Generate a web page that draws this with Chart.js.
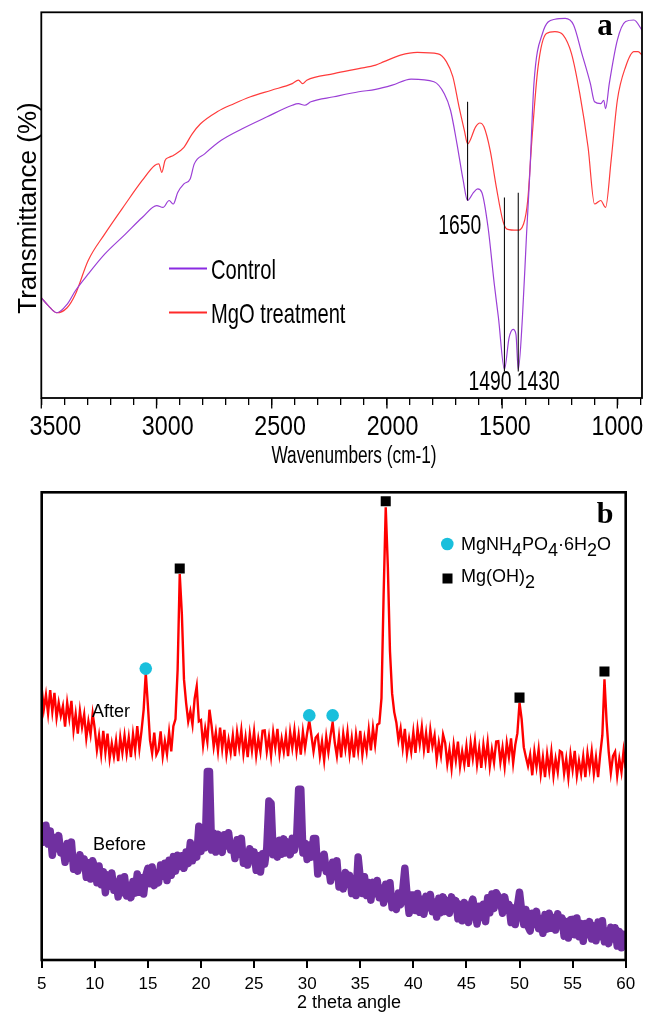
<!DOCTYPE html>
<html>
<head>
<meta charset="utf-8">
<title>FTIR and XRD spectra</title>
<script src="https://cdn.jsdelivr.net/npm/chart.js@4.4.1/dist/chart.umd.min.js"></script>
<style>
  html, body { margin: 0; padding: 0; background: #fff; overflow: hidden; }
  #wrap { position: relative; width: 654px; height: 1015px; }
  #ir { position: absolute; left: 0; top: 0; width: 654px; height: 480px; }
  #xrd { position: absolute; left: 0; top: 480px; width: 654px; height: 535px; }
</style>
</head>
<body>
<div id="wrap">
  <canvas id="ir" width="654" height="480"></canvas>
  <canvas id="xrd" width="654" height="535"></canvas>
</div>
<script>
// ---------- (a) FTIR spectra ----------
const irTickLabels = [3500, 3000, 2500, 2000, 1500, 1000];
const irMinorTicks = [3400, 3300, 3200, 3100, 2900, 2800, 2700, 2600, 2400, 2300, 2200, 2100,
                      1900, 1800, 1700, 1600, 1400, 1300, 1200, 1100, 900];

const controlWn = [3500, 3469, 3433, 3388, 3352, 3297, 3225, 3135, 3062, 2999,
                   2972, 2945, 2927, 2908, 2881, 2854, 2836, 2791, 2719, 2628,
                   2520, 2411, 2384, 2357, 2330, 2230, 2122, 2049, 1977, 1895,
                   1796, 1751, 1724, 1696, 1669, 1650, 1624, 1606, 1588, 1561,
                   1534, 1516, 1490, 1470, 1452, 1440, 1430, 1412, 1394, 1380,
                   1362, 1325, 1271, 1226, 1190, 1154, 1117, 1099, 1072, 1059,
                   1051, 1035, 1000, 964, 928, 893];
const controlT = [26.0, 23.9, 22.1, 24.3, 27.8, 32.1, 37.3, 42.5, 46.8, 49.9,
                  49.4, 51.2, 50.3, 53.3, 55.5, 56.8, 60.7, 63.3, 66.8, 69.8,
                  72.9, 75.9, 76.3, 75.9, 76.8, 78.1, 79.4, 80.0, 81.1, 82.7,
                  82.0, 78.9, 74.6, 65.9, 56.4, 51.2, 53.3, 54.2, 53.3, 44.2,
                  29.5, 20.8, 7.4, 15.6, 17.8, 16.5, 7.4, 20.8, 42.5, 58.1,
                  81.5, 94.5, 98.2, 98.4, 96.7, 89.3, 81.5, 76.8, 76.3, 77.2,
                  75.0, 81.5, 92.8, 97.6, 98.0, 95.4];

const mgoWn = [3500, 3469, 3433, 3388, 3352, 3297, 3225, 3135, 3062, 3008,
               2990, 2977, 2963, 2945, 2927, 2881, 2845, 2809, 2737, 2664,
               2592, 2501, 2411, 2384, 2366, 2348, 2230, 2122, 2049, 2013,
               1941, 1868, 1778, 1742, 1714, 1687, 1664, 1650, 1615, 1597,
               1579, 1552, 1525, 1497, 1479, 1434, 1407, 1389, 1371, 1344,
               1308, 1271, 1235, 1199, 1163, 1127, 1099, 1072, 1051, 1027,
               1000, 964, 928, 910, 893];
const mgoT = [26.0, 23.9, 22.1, 23.4, 26.9, 35.6, 42.5, 50.3, 56.4, 60.3,
              60.7, 58.5, 61.6, 62.4, 62.9, 65.0, 68.5, 71.1, 74.2, 76.3,
              78.1, 79.8, 81.5, 82.4, 81.5, 82.4, 84.1, 85.4, 86.3, 87.2,
              88.9, 89.6, 89.2, 87.2, 83.3, 75.5, 69.4, 65.9, 70.3, 71.3,
              70.3, 64.2, 54.6, 46.0, 43.8, 43.5, 45.1, 51.2, 66.8, 85.9,
              94.5, 95.0, 94.1, 89.3, 78.9, 65.0, 50.3, 51.2, 49.4, 61.6,
              77.2, 85.9, 89.8, 89.8, 88.9];

// band markers (wavenumber, upper and lower end of the drop line)
const peakWn = [1650, 1490, 1430];
const peakTop = [76.8, 52.0, 53.2];
const peakBottom = [51.2, 6.9, 6.9];

// ---------- (b) XRD patterns ----------
const xrdStart = 5, xrdStep = 0.2;   // 2θ sampling grid
const xrdTicks = [5, 10, 15, 20, 25, 30, 35, 40, 45, 50, 55, 60];

const xrdAfter = [
  58.1, 53.6, 56.7, 52.7, 57.7,  53.1, 57.1, 51.8, 55.0, 52.2,
  54.3, 49.9, 55.0, 51.7, 55.4,  49.1, 52.6, 48.4, 53.3, 49.8,
  52.5, 47.4, 51.0, 48.2, 52.7,  49.4, 44.9, 48.0, 44.0, 49.0,
  44.4, 48.4, 43.1, 46.3, 43.5,  46.9, 42.5, 47.6, 44.3, 48.0,
  44.1, 47.6, 43.4, 48.3, 44.8,  50.0, 45.2, 49.0, 53.5, 61.4,
  54.5, 47.0, 44.2, 48.6, 43.9,  44.9, 48.9, 43.6, 46.8, 44.0,
  48.7, 44.6, 50.0, 51.5, 62.0,  82.5, 74.0, 60.0, 55.0, 51.0,
  53.2, 50.3, 55.8, 58.5, 51.0,  51.3, 45.9, 49.5, 46.7, 53.5,
  50.1, 45.6, 48.7, 44.7, 49.7,  45.2, 49.2, 43.9, 47.1, 44.3,
  48.0, 43.6, 48.7, 45.4, 49.1,  44.1, 47.6, 43.4, 48.3, 44.8,
  48.8, 43.7, 47.3, 44.5, 49.0,  49.1, 44.6, 47.7, 43.7, 48.7,
  45.4, 49.4, 44.1, 47.3, 44.5,  48.0, 43.6, 48.7, 45.4, 49.1,
  44.6, 48.1, 43.9, 48.8, 45.3,  48.5, 51.2, 48.0, 44.6, 47.5,
  48.1, 43.6, 46.7, 42.7, 47.7,  44.4, 48.0, 50.8, 46.5, 43.6,
  47.7, 43.3, 48.4, 45.1, 48.8,  44.0, 47.5, 43.3, 48.2, 44.7,
  49.0, 43.9, 47.5, 44.7, 49.2,  44.8, 49.6, 46.0, 50.3, 50.6,
  56.0, 78.0, 96.8, 84.0, 66.0,  57.0, 53.0, 50.8, 47.0, 49.5,
  45.4, 49.4, 44.1, 47.3, 44.5,  48.7, 44.3, 49.4, 46.1, 49.8,
  45.0, 48.5, 44.3, 49.2, 45.7,  48.0, 42.9, 46.5, 43.7, 48.2,
  46.4, 41.9, 45.0, 41.0, 46.0,  42.7, 46.7, 41.4, 44.6, 41.8,
  45.7, 41.3, 46.4, 43.1, 46.8,  41.8, 45.3, 41.1, 46.0, 42.5,
  46.5, 41.4, 45.0, 42.2, 46.7,  46.8, 42.3, 45.4, 41.4, 46.4,
  43.4, 47.4, 42.1, 46.0, 48.5,  55.0, 51.5, 45.5, 43.4, 41.5,
  43.9, 39.5, 44.6, 41.3, 45.0,  39.8, 43.3, 39.1, 44.0, 40.5,
  44.5, 39.4, 43.0, 40.2, 44.7,  44.4, 39.9, 43.0, 39.0, 44.0,
  40.7, 44.7, 39.4, 42.6, 39.8,  43.5, 39.1, 44.2, 40.9, 44.6,
  39.8, 43.3, 39.1, 44.0, 48.0,  60.0, 51.0, 44.5, 40.0, 43.6,
  44.5, 39.4, 43.0, 40.2, 44.7,
  41.0
];

const xrdBefore = [
  28.5, 25.2, 28.8, 24.8, 27.6,  22.4, 26.2, 23.8, 26.6, 22.9,
  24.1, 20.9, 24.9, 21.8, 25.2,  19.4, 21.7, 19.0, 22.5, 20.0,
  21.6, 17.7, 20.8, 17.3, 21.2,  19.8, 16.5, 20.1, 16.1, 18.9,
  14.4, 18.2, 15.8, 18.6, 14.9,  16.7, 13.5, 17.5, 14.4, 17.8,
  13.7, 16.0, 13.3, 16.8, 14.3,  18.4, 14.5, 17.6, 14.1, 18.0,
  19.6, 16.3, 19.9, 15.9, 18.7,  16.5, 20.3, 17.9, 20.7, 17.0,
  21.3, 18.1, 22.1, 19.0, 22.4,  20.0, 22.3, 19.6, 23.1, 20.6,
  25.1, 21.2, 24.3, 22.0, 28.6,  23.2, 26.0, 24.0, 40.3, 40.3,
  23.5, 27.1, 23.1, 26.9, 24.0,  23.0, 26.8, 24.4, 27.2, 23.5,
  24.9, 21.7, 25.7, 22.6, 26.0,  20.7, 23.0, 20.3, 23.8, 21.3,
  23.1, 19.2, 22.3, 18.8, 22.7,  20.5, 24.0, 34.0, 33.5, 22.5,
  25.4, 22.0, 25.6, 22.6, 25.9,  22.9, 25.2, 22.5, 26.0, 23.5,
  25.5, 36.5, 36.5, 22.9, 25.0,  21.5, 24.6, 22.0, 26.0, 26.0,
  18.4, 22.2, 19.8, 22.6, 18.9,  20.1, 16.9, 20.9, 17.8, 21.2,
  15.6, 17.9, 15.2, 18.7, 16.2,  18.1, 14.2, 17.3, 13.8, 22.0,
  17.5, 14.2, 17.8, 13.8, 16.6,  12.8, 16.6, 14.2, 17.0, 13.3,
  15.4, 12.2, 16.2, 13.1, 16.5,  11.2, 13.5, 10.8, 14.3, 11.8,
  14.9, 19.6, 14.1, 10.0, 13.9,  13.9, 10.6, 14.2, 10.2, 13.0,
  9.8, 13.6, 11.2, 14.0, 10.3,   12.4, 9.2, 13.2, 10.1, 13.5,
  10.4, 12.7, 10.0, 13.5, 11.0,  12.7, 8.8, 11.9, 8.4, 12.3,
  11.3, 8.0, 11.6, 13.0, 10.4,   7.7, 11.5, 9.1, 11.9, 8.2,
  13.3, 10.1, 14.1, 11.0, 14.4,  13.6, 12.7, 10.0, 13.5, 11.0,
  11.9, 8.0, 11.1, 7.6, 11.5,    14.5, 10.5, 7.6, 10.8, 7.2,
  6.2, 10.0, 7.6, 10.4, 6.7,     8.9, 5.7, 9.7, 6.6, 10.0,
  6.8, 9.1, 6.4, 9.9, 7.4,       9.0, 5.1, 8.2, 4.7, 8.6,
  8.7, 5.4, 9.0, 5.0, 7.8,       4.0, 7.8, 5.4, 8.2, 4.5,
  7.3, 4.1, 8.1, 5.0, 8.4,       3.9, 6.2, 3.5, 7.0, 4.5,
  6.9, 3.0, 6.1, 2.6, 5.5,
  3.0
];

// phase identification markers
const struviteTheta = [14.8, 30.2, 32.4];
const struviteY = [62.3, 52.3, 52.3];
const bruciteTheta = [18.0, 37.4, 50.0, 58.0];
const bruciteY = [83.7, 98.1, 56.1, 61.7];

// ---------- shared helpers ----------
const SANS = '"Liberation Sans", Arial, Helvetica, sans-serif';
const SERIF = '"Liberation Serif", "Times New Roman", serif';
const zip = (xs, ys) => xs.map((x, i) => ({ x: x, y: ys[i] }));

// condensed text: horizontal squeeze of a regular face
function squeeze(ctx, text, x, y, size, sx, align, opts) {
  opts = opts || {};
  ctx.save();
  ctx.font = (opts.weight || 'normal') + ' ' + size + 'px ' + (opts.family || SANS);
  ctx.fillStyle = opts.color || '#000';
  ctx.textBaseline = 'alphabetic';
  ctx.textAlign = align || 'left';
  ctx.translate(x, y);
  if (opts.rotate) ctx.rotate(opts.rotate);
  ctx.scale(sx, 1);
  ctx.fillText(text, 0, 0);
  ctx.restore();
}

// text with subscript runs: parts = [[text, isSub], ...]
function chemText(ctx, parts, x, y, size) {
  ctx.save();
  ctx.font = size + 'px ' + SANS;
  ctx.fillStyle = '#000';
  ctx.textBaseline = 'alphabetic';
  ctx.textAlign = 'left';
  let cx = x;
  parts.forEach(p => {
    ctx.fillText(p[0], cx, p[1] ? y + 6 : y);
    cx += ctx.measureText(p[0]).width;
  });
  ctx.restore();
}

function framePlugin(id, lw) {
  return {
    id: id,
    afterDatasetsDraw(chart) {
      const a = chart.chartArea, ctx = chart.ctx;
      ctx.save();
      ctx.strokeStyle = '#000';
      ctx.lineWidth = lw;
      ctx.strokeRect(a.left, a.top, a.right - a.left, a.bottom - a.top);
      ctx.restore();
    }
  };
}

// ---------- chart (a) ----------
const irText = {
  id: 'irText',
  afterDraw(chart) {
    const ctx = chart.ctx, xs = chart.scales.x, ys = chart.scales.y;
    const base = chart.chartArea.bottom;
    // longer marks at the labelled wavenumbers
    ctx.save();
    ctx.strokeStyle = '#000';
    ctx.lineWidth = 1.3;
    irTickLabels.forEach(v => {
      const px = xs.getPixelForValue(v);
      ctx.beginPath(); ctx.moveTo(px, base); ctx.lineTo(px, base + 10.5); ctx.stroke();
    });
    ctx.restore();
    // tick labels (label row runs slightly tighter than the tick row)
    irTickLabels.forEach(v => {
      const shift = (v - 1000) * 0.0056;
      squeeze(ctx, String(v), xs.getPixelForValue(v) + shift, 435, 28, 0.83, 'center');
    });
    // axis titles
    squeeze(ctx, 'Wavenumbers (cm-1)', 354, 463, 23, 0.75, 'center');
    squeeze(ctx, 'Transmittance (%)', 36, 208, 26, 1.0, 'center', { rotate: -Math.PI / 2 });
    // band labels
    squeeze(ctx, '1650', xs.getPixelForValue(1684), ys.getPixelForValue(42.5), 28, 0.69, 'center');
    squeeze(ctx, '1490', xs.getPixelForValue(1553), ys.getPixelForValue(2.2), 28, 0.69, 'center');
    squeeze(ctx, '1430', xs.getPixelForValue(1343), ys.getPixelForValue(2.2), 28, 0.69, 'center');
    // legend
    ctx.save();
    ctx.lineWidth = 2;
    ctx.strokeStyle = '#8a2be2';
    ctx.beginPath(); ctx.moveTo(169, 268.5); ctx.lineTo(207, 268.5); ctx.stroke();
    ctx.strokeStyle = '#ff2a2a';
    ctx.beginPath(); ctx.moveTo(169, 312.6); ctx.lineTo(207, 312.6); ctx.stroke();
    ctx.restore();
    squeeze(ctx, 'Control', 211, 279, 28, 0.72, 'left');
    squeeze(ctx, 'MgO treatment', 211, 323, 28, 0.72, 'left');
    // panel letter
    squeeze(ctx, 'a', 605, 35, 31, 1, 'center', { weight: 'bold', family: SERIF });
  }
};

new Chart(document.getElementById('ir'), {
  type: 'scatter',
  data: {
    datasets: [
      ...peakWn.map((w, i) => ({
        label: 'band ' + w,
        data: [{ x: w, y: peakTop[i] }, { x: w, y: peakBottom[i] }],
        showLine: true, borderColor: '#111', borderWidth: 1.1, pointRadius: 0
      })),
      {
        label: 'Control',
        data: zip(controlWn, controlT),
        showLine: true, borderColor: '#9b3fd6', borderWidth: 1.2, pointRadius: 0,
        cubicInterpolationMode: 'monotone'
      },
      {
        label: 'MgO treatment',
        data: zip(mgoWn, mgoT),
        showLine: true, borderColor: '#ff3b3b', borderWidth: 1.2, pointRadius: 0,
        cubicInterpolationMode: 'monotone'
      }
    ]
  },
  options: {
    responsive: false,
    animation: false,
    devicePixelRatio: 1,
    layout: { padding: { left: 0, top: 12.3, right: 12, bottom: 0 } },
    plugins: { legend: { display: false }, tooltip: { enabled: false } },
    scales: {
      x: {
        type: 'linear', min: 893, max: 3500, reverse: true,
        afterBuildTicks: s => {
          s.ticks = irTickLabels.concat(irMinorTicks).sort((a, b) => b - a).map(v => ({ value: v }));
        },
        afterFit: s => { s.height = 82; },
        ticks: { display: false },
        grid: { display: true, drawOnChartArea: false, drawTicks: true, tickLength: 7, color: '#000', lineWidth: 1.3 },
        border: { display: false }
      },
      y: {
        type: 'linear', min: 0, max: 100,
        afterFit: s => { s.width = 41.3; },
        ticks: { display: false },
        grid: { display: false },
        border: { display: false }
      }
    }
  },
  plugins: [framePlugin('irFrame', 1.8), irText]
});

// ---------- chart (b) ----------
const xrdTheta = xrdAfter.map((_, i) => xrdStart + i * xrdStep);

const xrdText = {
  id: 'xrdText',
  afterDraw(chart) {
    const ctx = chart.ctx;
    squeeze(ctx, 'After', 92, 237, 18, 1, 'left');
    squeeze(ctx, 'Before', 93, 370, 18, 1, 'left');
    squeeze(ctx, '2 theta angle', 349, 528, 18, 1, 'center');
    squeeze(ctx, 'b', 605, 43, 30, 1, 'center', { weight: 'bold', family: SERIF });
    // legend
    ctx.save();
    ctx.fillStyle = '#19bfdc';
    ctx.beginPath(); ctx.arc(447.3, 64, 6.3, 0, Math.PI * 2); ctx.fill();
    ctx.fillStyle = '#000';
    ctx.fillRect(442.5, 93.5, 10, 10);
    ctx.restore();
    chemText(ctx, [['MgNH', 0], ['4', 1], ['PO', 0], ['4', 1], ['\u00b76H', 0], ['2', 1], ['O', 0]], 461, 70, 18);
    chemText(ctx, [['Mg(OH)', 0], ['2', 1]], 461, 102, 18);
  }
};

new Chart(document.getElementById('xrd'), {
  type: 'scatter',
  data: {
    datasets: [
      {
        label: 'MgNH4PO4·6H2O',
        data: zip(struviteTheta, struviteY),
        pointStyle: 'circle', pointRadius: 6.3, backgroundColor: '#19bfdc', borderWidth: 0
      },
      {
        label: 'Mg(OH)2',
        data: zip(bruciteTheta, bruciteY),
        pointStyle: 'rect', pointRadius: 7.1, backgroundColor: '#000', borderWidth: 0
      },
      {
        label: 'After',
        data: zip(xrdTheta, xrdAfter),
        showLine: true, borderColor: '#ff0000', borderWidth: 2.4, pointRadius: 0, tension: 0
      },
      {
        label: 'Before',
        data: zip(xrdTheta, xrdBefore),
        showLine: true, borderColor: '#7030a0', borderWidth: 7.5, pointRadius: 0, tension: 0,
        borderJoinStyle: 'round', borderCapStyle: 'round'
      }
    ]
  },
  options: {
    responsive: false,
    animation: false,
    devicePixelRatio: 1,
    layout: { padding: { left: 0, top: 12.3, right: 28.3, bottom: 0 } },
    plugins: { legend: { display: false }, tooltip: { enabled: false } },
    scales: {
      x: {
        type: 'linear', min: 5, max: 60,
        afterBuildTicks: s => { s.ticks = xrdTicks.map(v => ({ value: v })); },
        afterFit: s => { s.height = 55; },
        ticks: { display: true, color: '#000', padding: 6, maxRotation: 0, font: { family: SANS, size: 17 } },
        grid: { display: true, drawOnChartArea: false, drawTicks: true, tickLength: 8, color: '#000', lineWidth: 2 },
        border: { display: false }
      },
      y: {
        type: 'linear', min: 0, max: 100,
        afterFit: s => { s.width = 41.7; },
        ticks: { display: false },
        grid: { display: false },
        border: { display: false }
      }
    }
  },
  plugins: [framePlugin('xrdFrame', 2.6), xrdText]
});
</script>
</body>
</html>
